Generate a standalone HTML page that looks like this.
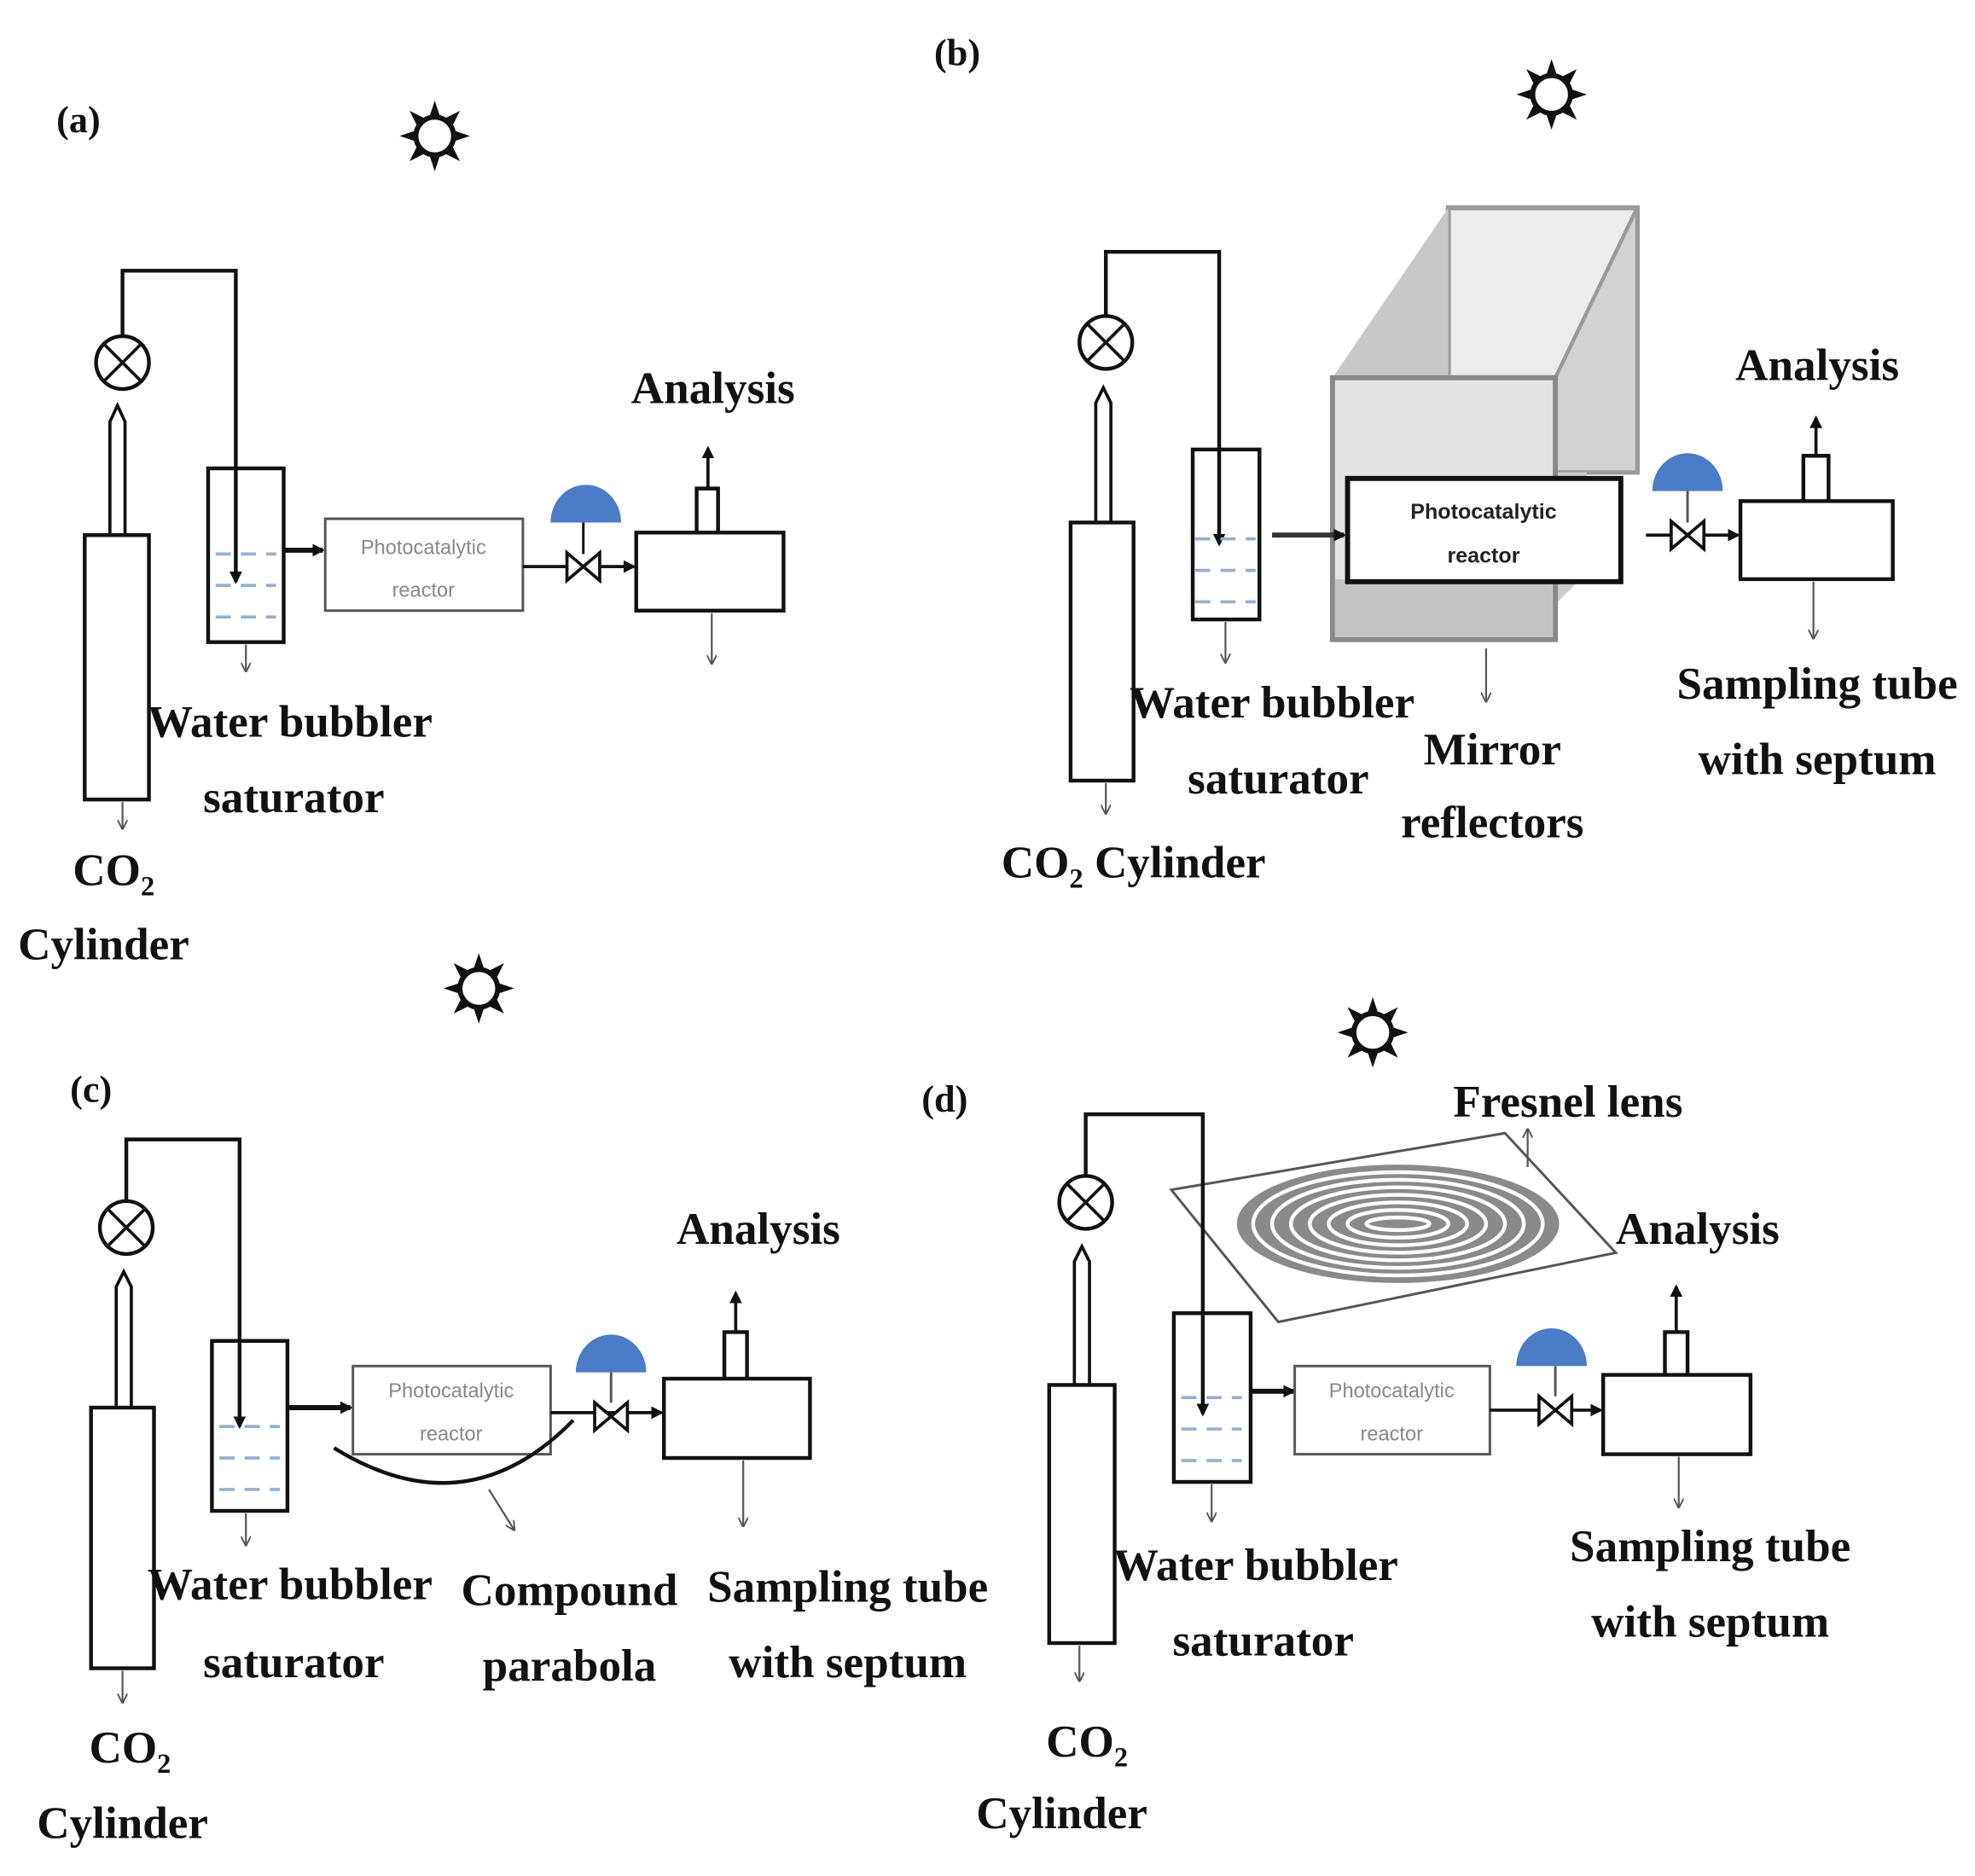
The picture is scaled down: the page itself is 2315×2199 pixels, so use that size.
<!DOCTYPE html>
<html><head><meta charset="utf-8"><style>html,body{margin:0;padding:0;background:#fff}svg{display:block}</style></head>
<body>
<svg width="2315" height="2199" viewBox="0 0 1568 1490" xmlns="http://www.w3.org/2000/svg">
<defs>
<marker id="ar" markerWidth="8" markerHeight="8" refX="7" refY="4" orient="auto" markerUnits="userSpaceOnUse"><path d="M0,0 L8,4 L0,8" fill="none" stroke="#555" stroke-width="1.3"/></marker>
<marker id="ab" markerWidth="10" markerHeight="10" refX="8" refY="5" orient="auto" markerUnits="userSpaceOnUse"><path d="M0,0 L10,5 L0,10 Z" fill="#111"/></marker>
<g id="sun"><circle r="15" fill="#fff" stroke="#111" stroke-width="4"/>
<g fill="#111"><path d="M-4,-16 L0,-28 L4,-16Z"/><path d="M-4,16 L0,28 L4,16Z"/><path d="M-16,-4 L-28,0 L-16,4Z"/><path d="M16,-4 L28,0 L16,4Z"/>
<path d="M-14,-8 L-20,-20 L-8,-14Z"/><path d="M14,-8 L20,-20 L8,-14Z"/><path d="M-14,8 L-20,20 L-8,14Z"/><path d="M14,8 L20,20 L8,14Z"/></g></g>
<g id="valve"><circle r="21" fill="#fff" stroke="#111" stroke-width="3"/><path d="M-14,-14 L14,14 M14,-14 L-14,14" stroke="#111" stroke-width="2.5"/></g>
<g id="bow"><path d="M-13,-11 L13,11 L13,-11 L-13,11 Z" fill="#fff" stroke="#111" stroke-width="2.5"/></g>
<g id="water" stroke="#8fb0d8" stroke-width="2.5" stroke-dasharray="12,8"><path d="M-24,0 H24 M-24,25 H24 M-24,50 H24"/></g>
</defs>
<g font-family="Liberation Serif, serif" font-weight="bold" font-size="36" fill="#111" text-anchor="middle">

<!-- (a) -->
<text x="62" y="105" font-size="30">(a)</text>
<use href="#sun" x="345" y="108"/>
<rect x="67" y="425" width="51" height="210" fill="none" stroke="#111" stroke-width="3"/>
<path d="M87,425 V335 L93,322 L99,335 V425" fill="none" stroke="#111" stroke-width="2.5"/>
<path d="M97,267 V215 H187 V462" fill="none" stroke="#111" stroke-width="3" marker-end="url(#ab)"/>
<use href="#valve" x="97" y="288"/>
<rect x="165" y="372" width="60" height="138" fill="none" stroke="#111" stroke-width="3"/>
<use href="#water" x="195" y="440"/>
<path d="M225,437 H256" stroke="#111" stroke-width="4" marker-end="url(#ab)"/>
<rect x="258" y="412" width="157" height="73" fill="#fff" stroke="#555" stroke-width="2"/>
<text x="336" y="440" font-family="Liberation Sans, sans-serif" font-weight="normal" font-size="16" fill="#888">Photocatalytic</text>
<text x="336" y="474" font-family="Liberation Sans, sans-serif" font-weight="normal" font-size="16" fill="#888">reactor</text>
<path d="M415,450 H503" stroke="#111" stroke-width="2.5" marker-end="url(#ab)"/>
<use href="#bow" x="463" y="450"/>
<path d="M463,440 V412" stroke="#111" stroke-width="2"/>
<path d="M437,415 A28,30 0 0 1 493,415 Z" fill="#4a7cc8"/>
<rect x="505" y="423" width="117" height="62" fill="none" stroke="#111" stroke-width="3"/>
<path d="M553,423 V388 H570 V423" fill="none" stroke="#111" stroke-width="3"/>
<path d="M562,388 V356" stroke="#111" stroke-width="2.5" marker-end="url(#ab)"/>
<text x="566" y="320">Analysis</text>
<path d="M565,487 V527" stroke="#555" stroke-width="1.5" marker-end="url(#ar)"/>
<path d="M195,512 V533" stroke="#555" stroke-width="1.5" marker-end="url(#ar)"/>
<path d="M97,637 V658" stroke="#555" stroke-width="1.5" marker-end="url(#ar)"/>
<text x="230" y="585">Water bubbler</text>
<text x="233" y="645">saturator</text>
<text x="90" y="703">CO<tspan font-size="22" dy="8">2</tspan></text>
<text x="82" y="762">Cylinder</text>

<!-- (b) -->
<text x="760" y="52" font-size="30">(b)</text>
<use href="#sun" x="1232" y="75"/>
<rect x="850" y="415" width="50" height="205" fill="none" stroke="#111" stroke-width="3"/>
<path d="M870,415 V320 L876,308 L882,320 V415" fill="none" stroke="#111" stroke-width="2.5"/>
<path d="M878,251 V200 H968 V432" fill="none" stroke="#111" stroke-width="3" marker-end="url(#ab)"/>
<use href="#valve" x="878" y="272"/>
<rect x="947" y="357" width="53" height="135" fill="none" stroke="#111" stroke-width="3"/>
<use href="#water" x="973" y="428"/>
<rect x="1150" y="165" width="150" height="210" fill="#ececec" stroke="#999" stroke-width="4"/>
<path d="M1058,300 L1150,165 V300 Z" fill="#c8c8c8"/>
<path d="M1235,300 L1300,165 V375 H1235 Z" fill="#d2d2d2" stroke="#999" stroke-width="3"/>
<path d="M1235,480 L1260,455 V375 H1235Z" fill="#ccc"/>
<rect x="1058" y="300" width="177" height="208" fill="#e4e4e4" stroke="#888" stroke-width="4"/>
<rect x="1060" y="460" width="173" height="46" fill="#c4c4c4"/>
<path d="M1010,425 H1067" stroke="#333" stroke-width="4" marker-end="url(#ab)"/>
<rect x="1070" y="380" width="217" height="82" fill="#fff" stroke="#111" stroke-width="4"/>
<text x="1178" y="412" font-family="Liberation Sans, sans-serif" font-size="17" fill="#222">Photocatalytic</text>
<text x="1178" y="447" font-family="Liberation Sans, sans-serif" font-size="17" fill="#222">reactor</text>
<path d="M1307,425 H1380" stroke="#111" stroke-width="2.5" marker-end="url(#ab)"/>
<use href="#bow" x="1340" y="425"/>
<path d="M1340,415 V388" stroke="#555" stroke-width="2"/>
<path d="M1312,390 A28,30 0 0 1 1368,390 Z" fill="#4a7cc8"/>
<rect x="1382" y="398" width="121" height="62" fill="none" stroke="#111" stroke-width="3"/>
<path d="M1432,398 V362 H1452 V398" fill="none" stroke="#111" stroke-width="3"/>
<path d="M1442,362 V332" stroke="#111" stroke-width="2.5" marker-end="url(#ab)"/>
<text x="1443" y="302">Analysis</text>
<path d="M973,494 V526" stroke="#555" stroke-width="1.5" marker-end="url(#ar)"/>
<path d="M1180,515 V557" stroke="#555" stroke-width="1.5" marker-end="url(#ar)"/>
<path d="M1440,462 V507" stroke="#555" stroke-width="1.5" marker-end="url(#ar)"/>
<path d="M878,622 V646" stroke="#555" stroke-width="1.5" marker-end="url(#ar)"/>
<text x="1010" y="570">Water bubbler</text>
<text x="1015" y="630">saturator</text>
<text x="1185" y="607">Mirror</text>
<text x="1185" y="665">reflectors</text>
<text x="1443" y="555">Sampling tube</text>
<text x="1443" y="615">with septum</text>
<text x="900" y="697">CO<tspan font-size="22" dy="8">2</tspan><tspan dy="-8"> Cylinder</tspan></text>

<!-- (c) -->
<use href="#sun" x="380" y="785"/>
<text x="72" y="875" font-size="30">(c)</text>
<rect x="72" y="1118" width="50" height="207" fill="none" stroke="#111" stroke-width="3"/>
<path d="M92,1118 V1022 L98,1010 L104,1022 V1118" fill="none" stroke="#111" stroke-width="2.5"/>
<path d="M100,954 V905 H190 V1133" fill="none" stroke="#111" stroke-width="3" marker-end="url(#ab)"/>
<use href="#valve" x="100" y="975"/>
<rect x="168" y="1065" width="60" height="135" fill="none" stroke="#111" stroke-width="3"/>
<use href="#water" x="198" y="1133"/>
<path d="M228,1118 H278" stroke="#111" stroke-width="4" marker-end="url(#ab)"/>
<rect x="280" y="1085" width="157" height="70" fill="#fff" stroke="#555" stroke-width="2"/>
<text x="358" y="1110" font-family="Liberation Sans, sans-serif" font-weight="normal" font-size="16" fill="#888">Photocatalytic</text>
<text x="358" y="1144" font-family="Liberation Sans, sans-serif" font-weight="normal" font-size="16" fill="#888">reactor</text>
<path d="M265,1150 Q370,1215 455,1128" fill="none" stroke="#111" stroke-width="3"/>
<path d="M388,1183 L408,1215" stroke="#555" stroke-width="1.5" marker-end="url(#ar)"/>
<path d="M437,1122 H525" stroke="#111" stroke-width="2.5" marker-end="url(#ab)"/>
<use href="#bow" x="485" y="1125"/>
<path d="M485,1114 V1088" stroke="#555" stroke-width="2"/>
<path d="M457,1090 A28,30 0 0 1 513,1090 Z" fill="#4a7cc8"/>
<rect x="527" y="1095" width="116" height="63" fill="none" stroke="#111" stroke-width="3"/>
<path d="M575,1095 V1058 H593 V1095" fill="none" stroke="#111" stroke-width="3"/>
<path d="M584,1058 V1027" stroke="#111" stroke-width="2.5" marker-end="url(#ab)"/>
<text x="602" y="988">Analysis</text>
<path d="M195,1202 V1227" stroke="#555" stroke-width="1.5" marker-end="url(#ar)"/>
<path d="M590,1160 V1212" stroke="#555" stroke-width="1.5" marker-end="url(#ar)"/>
<path d="M97,1327 V1352" stroke="#555" stroke-width="1.5" marker-end="url(#ar)"/>
<text x="230" y="1270">Water bubbler</text>
<text x="233" y="1332">saturator</text>
<text x="452" y="1275">Compound</text>
<text x="452" y="1335">parabola</text>
<text x="673" y="1272">Sampling tube</text>
<text x="673" y="1332">with septum</text>
<text x="103" y="1400">CO<tspan font-size="22" dy="8">2</tspan></text>
<text x="97" y="1460">Cylinder</text>

<!-- (d) -->
<use href="#sun" x="1090" y="820"/>
<text x="750" y="883" font-size="30">(d)</text>
<path d="M930,945 L1195,900 L1283,995 L1015,1050 Z" fill="#fff" stroke="#555" stroke-width="2"/>
<ellipse cx="1110" cy="972" rx="128" ry="47" fill="#8a8a8a"/>
<g fill="none" stroke="#fff" stroke-width="3">
<ellipse cx="1110" cy="972" rx="115" ry="41"/><ellipse cx="1110" cy="972" rx="100" ry="35"/><ellipse cx="1110" cy="972" rx="85" ry="29"/><ellipse cx="1110" cy="972" rx="70" ry="23"/><ellipse cx="1110" cy="972" rx="55" ry="17"/><ellipse cx="1110" cy="972" rx="40" ry="11"/><ellipse cx="1110" cy="972" rx="25" ry="5"/>
</g>
<path d="M1213,927 V897" stroke="#555" stroke-width="1.5" marker-end="url(#ar)"/>
<text x="1245" y="887">Fresnel lens</text>
<rect x="833" y="1100" width="52" height="205" fill="none" stroke="#111" stroke-width="3"/>
<path d="M853,1100 V1002 L859,990 L865,1002 V1100" fill="none" stroke="#111" stroke-width="2.5"/>
<path d="M862,934 V885 H955 V1123" fill="none" stroke="#111" stroke-width="3" marker-end="url(#ab)"/>
<use href="#valve" x="862" y="955"/>
<rect x="932" y="1043" width="61" height="134" fill="none" stroke="#111" stroke-width="3"/>
<use href="#water" x="962" y="1110"/>
<path d="M993,1105 H1027" stroke="#111" stroke-width="4" marker-end="url(#ab)"/>
<rect x="1028" y="1085" width="155" height="70" fill="#fff" stroke="#555" stroke-width="2"/>
<text x="1105" y="1110" font-family="Liberation Sans, sans-serif" font-weight="normal" font-size="16" fill="#888">Photocatalytic</text>
<text x="1105" y="1144" font-family="Liberation Sans, sans-serif" font-weight="normal" font-size="16" fill="#888">reactor</text>
<path d="M1183,1120 H1271" stroke="#111" stroke-width="2.5" marker-end="url(#ab)"/>
<use href="#bow" x="1235" y="1120"/>
<path d="M1235,1109 V1085" stroke="#555" stroke-width="2"/>
<path d="M1204,1085 A28,30 0 0 1 1260,1085 Z" fill="#4a7cc8"/>
<rect x="1273" y="1092" width="117" height="63" fill="none" stroke="#111" stroke-width="3"/>
<path d="M1322,1092 V1058 H1340 V1092" fill="none" stroke="#111" stroke-width="3"/>
<path d="M1331,1058 V1022" stroke="#111" stroke-width="2.5" marker-end="url(#ab)"/>
<text x="1348" y="988">Analysis</text>
<path d="M962,1179 V1208" stroke="#555" stroke-width="1.5" marker-end="url(#ar)"/>
<path d="M1333,1157 V1197" stroke="#555" stroke-width="1.5" marker-end="url(#ar)"/>
<path d="M857,1307 V1335" stroke="#555" stroke-width="1.5" marker-end="url(#ar)"/>
<text x="997" y="1255">Water bubbler</text>
<text x="1003" y="1315">saturator</text>
<text x="1358" y="1240">Sampling tube</text>
<text x="1358" y="1300">with septum</text>
<text x="863" y="1395">CO<tspan font-size="22" dy="8">2</tspan></text>
<text x="843" y="1452">Cylinder</text>
</g>
</svg>
</body></html>
